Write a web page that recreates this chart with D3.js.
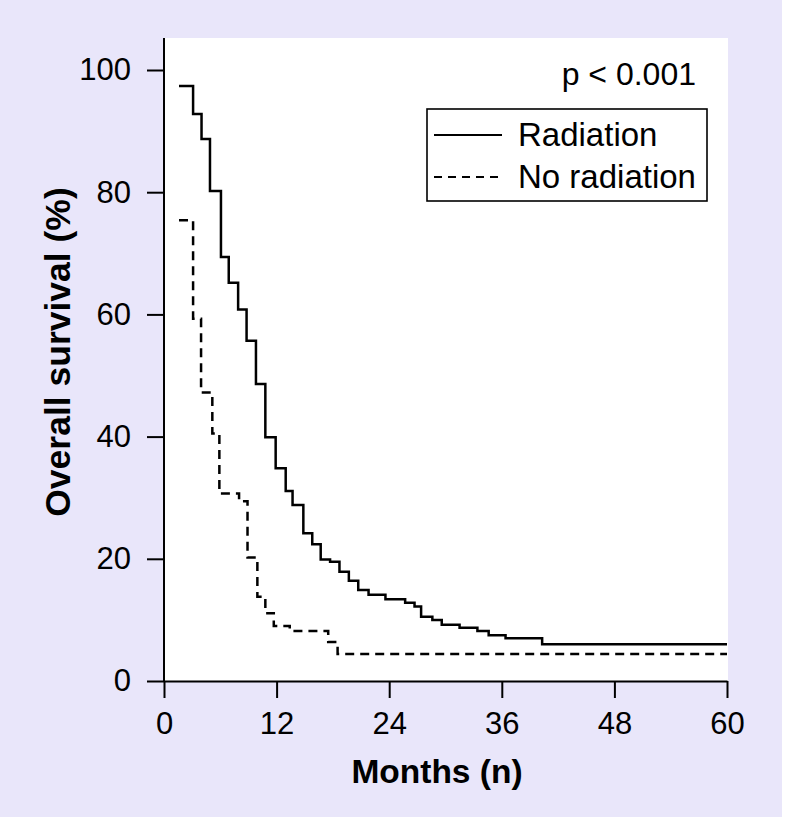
<!DOCTYPE html>
<html>
  <head>
    <title>Overall survival: Radiation vs No radiation</title>
    <meta charset="UTF-8">
    <style>
      body { margin: 0; background: #ffffff; }
      svg { display: block; font-family: "Liberation Sans", Arial, Helvetica, sans-serif; }
    </style>
  </head>
  <body>
    <svg></svg>

    <script src="https://d3js.org/d3.v7.min.js"></script>
    <script>

// start of each step (months) and survival level (%) from that point on
var radiationMonths = [1.6, 3.1, 4.0, 4.9, 6.07, 6.9, 7.9, 8.8, 9.8, 10.8, 11.9, 12.97, 13.7, 14.85, 15.8, 16.7, 17.7, 18.7, 19.7, 20.7, 21.8, 23.6, 25.7, 26.7, 27.4, 28.6, 29.6, 31.5, 33.4, 34.6, 36.4, 40.3, 60];
var radiationSurvival = [97.4, 92.8, 88.7, 80.2, 69.4, 65.2, 60.8, 55.7, 48.6, 39.9, 34.8, 31.1, 28.8, 24.2, 22.4, 19.9, 19.5, 17.9, 16.4, 14.9, 14.1, 13.4, 12.8, 12.2, 10.5, 10.0, 9.2, 8.7, 8.2, 7.5, 7.0, 6.0, 6.0];

var noRadiationMonths = [1.6, 3.1, 3.95, 5.15, 5.9, 8.0, 8.9, 9.95, 10.8, 11.7, 13.4, 17.5, 18.5, 60];
var noRadiationSurvival = [75.4, 59.3, 47.2, 40.5, 30.7, 29.4, 20.2, 13.8, 11.1, 9.0, 8.2, 6.4, 4.4, 4.4];

var seriesNames = ["Radiation", "No radiation"];
var xTicks = [0, 12, 24, 36, 48, 60];
var yTicks = [0, 20, 40, 60, 80, 100];
var pValueText = "p < 0.001";

var config = {
  "width": 786,
  "height": 820,
  "bg": "#e9e6fa",
  "plot": { "left": 164, "right": 727, "top": 38, "bottom": 681 },
  "dash": "9,6"
};

var svg = d3.select("svg")
  .attr("width", config.width)
  .attr("height", config.height);

// lavender panel behind everything
svg.append("rect")
  .attr("x", 0).attr("y", 0)
  .attr("width", 782).attr("height", 817)
  .attr("fill", config.bg);

var p = config.plot;

var x = d3.scaleLinear().domain([0, 60]).range([p.left, p.right]);
// axis line runs a bit above 100
var y = d3.scaleLinear().domain([0, 100]).range([p.bottom, 70]);

// white plotting area
svg.append("rect")
  .attr("x", p.left).attr("y", p.top)
  .attr("width", 728 - p.left).attr("height", p.bottom - p.top)
  .attr("fill", "#ffffff");

// axes
var xAxis = svg.append("g")
  .attr("transform", "translate(0," + p.bottom + ")")
  .call(d3.axisBottom(x).tickValues(xTicks).tickSize(17).tickSizeOuter(0).tickPadding(14));

var yAxis = svg.append("g")
  .attr("transform", "translate(" + p.left + ",0)")
  .call(d3.axisLeft(y).tickValues(yTicks).tickSize(17).tickSizeOuter(0).tickPadding(16));

// extend the y axis line up to the top of the white area
yAxis.select(".domain").attr("d", "M0," + p.bottom + "V" + p.top);

[xAxis, yAxis].forEach(function(a){
  a.select(".domain").attr("stroke", "#000").attr("stroke-width", 2);
  a.selectAll(".tick line").attr("stroke", "#000").attr("stroke-width", 2);
  a.selectAll(".tick text")
    .attr("fill", "#000")
    .style("font-size", "31px")
    .style("font-family", "'Liberation Sans', Arial, sans-serif");
});

// survival curves (Kaplan-Meier steps)
function toPoints(months, surv){
  return months.map(function(m, i){ return [m, surv[i]]; });
}

var line = d3.line()
  .x(function(d){ return x(d[0]); })
  .y(function(d){ return y(d[1]); })
  .curve(d3.curveStepAfter);

svg.append("path")
  .datum(toPoints(radiationMonths, radiationSurvival))
  .attr("d", line)
  .attr("fill", "none")
  .attr("stroke", "#000")
  .attr("stroke-width", 2.5);

svg.append("path")
  .datum(toPoints(noRadiationMonths, noRadiationSurvival))
  .attr("d", line)
  .attr("fill", "none")
  .attr("stroke", "#000")
  .attr("stroke-width", 2.5)
  .attr("stroke-dasharray", config.dash);

// p value
svg.append("text")
  .attr("x", 696).attr("y", 85)
  .attr("text-anchor", "end")
  .style("font-size", "32px")
  .text(pValueText);

// legend
var legend = svg.append("g");
legend.append("rect")
  .attr("x", 427).attr("y", 109)
  .attr("width", 280).attr("height", 92)
  .attr("fill", "#fff")
  .attr("stroke", "#000")
  .attr("stroke-width", 1.6);

seriesNames.forEach(function(name, i){
  var ly = 135 + i * 42;
  legend.append("line")
    .attr("x1", 434).attr("x2", 502)
    .attr("y1", ly).attr("y2", ly)
    .attr("stroke", "#000")
    .attr("stroke-width", 2)
    .attr("stroke-dasharray", i == 1 ? "8,6" : null);
  legend.append("text")
    .attr("x", 518).attr("y", ly + 11)
    .style("font-size", "33px")
    .text(name);
});

// axis titles
svg.append("text")
  .attr("x", 437).attr("y", 783)
  .attr("text-anchor", "middle")
  .style("font-size", "33.5px")
  .style("font-weight", "bold")
  .text("Months (n)");

svg.append("text")
  .attr("transform", "translate(70,352) rotate(-90)")
  .attr("text-anchor", "middle")
  .style("font-size", "35.5px")
  .style("font-weight", "bold")
  .text("Overall survival (%)");

    </script>
  </body>
</html>
